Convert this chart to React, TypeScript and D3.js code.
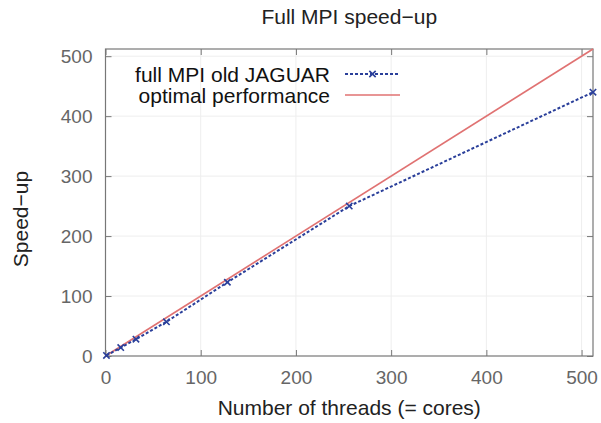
import React, { useEffect, useRef } from "react";
import * as d3 from "d3";

// threads (= cores) and measured speed-up on old JAGUAR
const threads = [1, 16, 32, 64, 128, 256, 512];
const speedup = [1, 14, 28, 57, 123, 250, 440];
const optimal = [0, 512];
const xTicks = [0, 100, 200, 300, 400, 500];
const yTicks = [0, 100, 200, 300, 400, 500];

const W = 601, H = 423;
const margin = { top: 49, right: 8, bottom: 67, left: 105.5 };

export default function App() {
  const ref = useRef<SVGSVGElement>(null);

  useEffect(() => {
    const svg = d3.select(ref.current);
    svg.selectAll("*").remove();
    const width = W - margin.left - margin.right;
    const height = H - margin.top - margin.bottom;
    const font = "'Liberation Sans', Arial, sans-serif";

    const x = d3.scaleLinear().domain([0, 512]).range([0, width]);
    const y = d3.scaleLinear().domain([0, 512]).range([height, 0]);

    const g = svg.append("g").attr("transform", `translate(${margin.left},${margin.top})`);

    // faint grid
    g.selectAll(".gx").data(xTicks.slice(1)).join("line")
      .attr("x1", d => x(d)).attr("x2", d => x(d)).attr("y1", 0).attr("y2", height)
      .attr("stroke", "#eeeeee").attr("stroke-width", 1);
    g.selectAll(".gy").data(yTicks.slice(1)).join("line")
      .attr("y1", d => y(d)).attr("y2", d => y(d)).attr("x1", 0).attr("x2", width)
      .attr("stroke", "#eeeeee").attr("stroke-width", 1);

    // axes with inward ticks, mirrored
    const tickStyle = (sel: any) => {
      sel.select(".domain").remove();
      sel.selectAll(".tick line").attr("stroke", "#777");
      sel.selectAll(".tick text").attr("fill", "#666").style("font-size", "19px").style("font-family", font);
    };
    g.append("g").attr("transform", `translate(0,${height})`)
      .call(d3.axisBottom(x).tickValues(xTicks).tickSizeInner(-6).tickSizeOuter(0).tickPadding(15))
      .call(tickStyle);
    g.append("g")
      .call(d3.axisTop(x).tickValues(xTicks).tickSizeInner(-6).tickSizeOuter(0).tickFormat(() => ""))
      .call(tickStyle);
    g.append("g")
      .call(d3.axisLeft(y).tickValues(yTicks).tickSizeInner(-6).tickSizeOuter(0).tickPadding(13))
      .call(tickStyle);
    g.append("g").attr("transform", `translate(${width},0)`)
      .call(d3.axisRight(y).tickValues(yTicks).tickSizeInner(-6).tickSizeOuter(0).tickFormat(() => ""))
      .call(tickStyle);

    g.append("rect").attr("width", width).attr("height", height)
      .attr("fill", "none").attr("stroke", "#777").attr("stroke-width", 1.2);

    const line = d3.line<[number, number]>().x(d => x(d[0])).y(d => y(d[1]));

    // optimal performance
    g.append("path").datum(optimal.map(v => [v, v] as [number, number]))
      .attr("d", line).attr("fill", "none").attr("stroke", "#e07272").attr("stroke-width", 1.6);

    // measured
    const pts = threads.map((t, i) => [t, speedup[i]] as [number, number]);
    g.append("path").datum(pts)
      .attr("d", line).attr("fill", "none").attr("stroke", "#2a3f9a")
      .attr("stroke-width", 2).attr("stroke-dasharray", "3,2");
    const cross = d3.symbol().type(d3.symbolX).size(28);
    g.selectAll(".pt").data(pts).join("path")
      .attr("transform", d => `translate(${x(d[0])},${y(d[1])})`)
      .attr("d", cross).attr("fill", "none").attr("stroke", "#2a3f9a").attr("stroke-width", 1.6);

    // legend
    const legend = [
      { label: "full MPI old JAGUAR", color: "#2a3f9a", dash: "3,2", mark: true, y: 74 },
      { label: "optimal performance", color: "#e07272", dash: null, mark: false, y: 95 },
    ];
    legend.forEach(l => {
      svg.append("text").attr("x", 330).attr("y", l.y + 8).attr("text-anchor", "end")
        .style("font-family", font).style("font-size", "21px").attr("fill", "#111").text(l.label);
      svg.append("line").attr("x1", 345).attr("x2", 400).attr("y1", l.y).attr("y2", l.y)
        .attr("stroke", l.color).attr("stroke-width", l.mark ? 2 : 1.6)
        .attr("stroke-dasharray", l.dash);
      if (l.mark) {
        svg.append("path").attr("transform", `translate(372.5,${l.y})`).attr("d", cross)
          .attr("fill", "none").attr("stroke", l.color).attr("stroke-width", 1.6);
      }
    });

    // titles
    svg.append("text").attr("x", margin.left + width / 2).attr("y", 24).attr("text-anchor", "middle")
      .style("font-family", font).style("font-size", "21px").attr("fill", "#222").text("Full MPI speed−up");
    svg.append("text").attr("x", margin.left + width / 2).attr("y", 415).attr("text-anchor", "middle")
      .style("font-family", font).style("font-size", "21px").attr("fill", "#222").text("Number of threads (= cores)");
    svg.append("text").attr("transform", `translate(28,219) rotate(-90)`)
      .attr("text-anchor", "middle")
      .style("font-family", font).style("font-size", "21px").attr("fill", "#222").text("Speed−up");
  }, []);

  return <svg ref={ref} width={W} height={H} style={{ position: "absolute", left: 0, top: 0, background: "#fff" }} />;
}
